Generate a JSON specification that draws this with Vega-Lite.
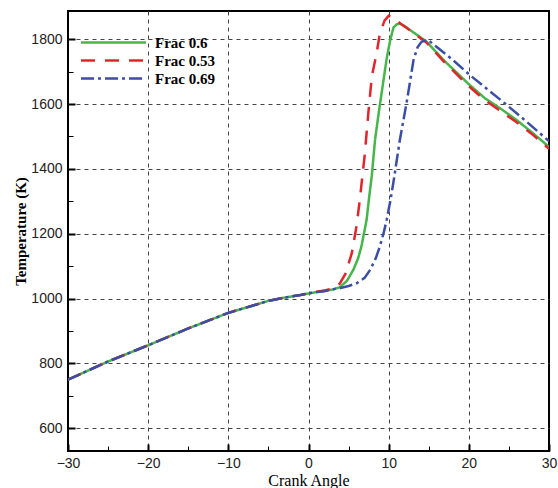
{
  "$schema": "https://vega.github.io/schema/vega-lite/v6.json",
  "width": 481,
  "height": 440,
  "autosize": "none",
  "padding": {"left": 68, "top": 11, "right": 9, "bottom": 37},
  "background": "white",
  "config": {
    "view": {"stroke": "black", "strokeWidth": 2},
    "axis": {"labelFont": "Liberation Sans", "labelFontSize": 14, "labelColor": "#222", "gridColor": "#444", "gridDash": [4, 4], "gridWidth": 1, "domain": false, "tickColor": "black", "titleColor": "black"}
  },
  "data": {"values": [
    {"s": "Frac 0.6", "x": -30, "t": 750}, {"s": "Frac 0.6", "x": -25, "t": 806}, {"s": "Frac 0.6", "x": -20, "t": 856}, {"s": "Frac 0.6", "x": -15, "t": 908}, {"s": "Frac 0.6", "x": -10, "t": 956}, {"s": "Frac 0.6", "x": -7, "t": 978}, {"s": "Frac 0.6", "x": -5, "t": 993}, {"s": "Frac 0.6", "x": -3, "t": 1003}, {"s": "Frac 0.6", "x": -1, "t": 1011}, {"s": "Frac 0.6", "x": 0, "t": 1016}, {"s": "Frac 0.6", "x": 1, "t": 1020}, {"s": "Frac 0.6", "x": 2, "t": 1024},
    {"s": "Frac 0.6", "x": 3, "t": 1028}, {"s": "Frac 0.6", "x": 3.9, "t": 1035}, {"s": "Frac 0.6", "x": 4.8, "t": 1055}, {"s": "Frac 0.6", "x": 5.6, "t": 1089}, {"s": "Frac 0.6", "x": 6.2, "t": 1125}, {"s": "Frac 0.6", "x": 6.6, "t": 1161}, {"s": "Frac 0.6", "x": 7.25, "t": 1243}, {"s": "Frac 0.6", "x": 7.6, "t": 1320}, {"s": "Frac 0.6", "x": 7.9, "t": 1380}, {"s": "Frac 0.6", "x": 8.3, "t": 1490}, {"s": "Frac 0.6", "x": 8.8, "t": 1580}, {"s": "Frac 0.6", "x": 9.3, "t": 1664}, {"s": "Frac 0.6", "x": 9.75, "t": 1740}, {"s": "Frac 0.6", "x": 10.2, "t": 1798}, {"s": "Frac 0.6", "x": 10.6, "t": 1836}, {"s": "Frac 0.6", "x": 11, "t": 1846}, {"s": "Frac 0.6", "x": 11.4, "t": 1848},
    {"s": "Frac 0.6", "x": 12, "t": 1840}, {"s": "Frac 0.6", "x": 14.7, "t": 1793}, {"s": "Frac 0.6", "x": 17, "t": 1732}, {"s": "Frac 0.6", "x": 20.1, "t": 1659}, {"s": "Frac 0.6", "x": 22, "t": 1618}, {"s": "Frac 0.6", "x": 23.9, "t": 1587}, {"s": "Frac 0.6", "x": 26, "t": 1550}, {"s": "Frac 0.6", "x": 28, "t": 1510}, {"s": "Frac 0.6", "x": 30, "t": 1468},
    {"s": "Frac 0.53", "x": -30, "t": 750}, {"s": "Frac 0.53", "x": -25, "t": 806}, {"s": "Frac 0.53", "x": -20, "t": 856}, {"s": "Frac 0.53", "x": -15, "t": 908}, {"s": "Frac 0.53", "x": -10, "t": 956}, {"s": "Frac 0.53", "x": -7, "t": 978}, {"s": "Frac 0.53", "x": -5, "t": 993}, {"s": "Frac 0.53", "x": -3, "t": 1003}, {"s": "Frac 0.53", "x": -1, "t": 1011}, {"s": "Frac 0.53", "x": 0, "t": 1016}, {"s": "Frac 0.53", "x": 1, "t": 1021}, {"s": "Frac 0.53", "x": 2, "t": 1025},
    {"s": "Frac 0.53", "x": 3, "t": 1031}, {"s": "Frac 0.53", "x": 3.9, "t": 1046}, {"s": "Frac 0.53", "x": 4.6, "t": 1076}, {"s": "Frac 0.53", "x": 5.4, "t": 1140}, {"s": "Frac 0.53", "x": 6, "t": 1225}, {"s": "Frac 0.53", "x": 6.4, "t": 1305}, {"s": "Frac 0.53", "x": 7, "t": 1440}, {"s": "Frac 0.53", "x": 7.5, "t": 1582}, {"s": "Frac 0.53", "x": 7.9, "t": 1685}, {"s": "Frac 0.53", "x": 8.5, "t": 1757}, {"s": "Frac 0.53", "x": 8.9, "t": 1818}, {"s": "Frac 0.53", "x": 9.5, "t": 1858}, {"s": "Frac 0.53", "x": 10, "t": 1872}, {"s": "Frac 0.53", "x": 10.6, "t": 1866}, {"s": "Frac 0.53", "x": 11.5, "t": 1848},
    {"s": "Frac 0.53", "x": 12, "t": 1839}, {"s": "Frac 0.53", "x": 14.7, "t": 1790}, {"s": "Frac 0.53", "x": 17, "t": 1728}, {"s": "Frac 0.53", "x": 20, "t": 1655}, {"s": "Frac 0.53", "x": 22, "t": 1612}, {"s": "Frac 0.53", "x": 24, "t": 1578}, {"s": "Frac 0.53", "x": 26, "t": 1543}, {"s": "Frac 0.53", "x": 28, "t": 1505}, {"s": "Frac 0.53", "x": 30, "t": 1462},
    {"s": "Frac 0.69", "x": -30, "t": 750}, {"s": "Frac 0.69", "x": -25, "t": 806}, {"s": "Frac 0.69", "x": -20, "t": 856}, {"s": "Frac 0.69", "x": -15, "t": 908}, {"s": "Frac 0.69", "x": -10, "t": 956}, {"s": "Frac 0.69", "x": -7, "t": 978}, {"s": "Frac 0.69", "x": -5, "t": 993}, {"s": "Frac 0.69", "x": -3, "t": 1003}, {"s": "Frac 0.69", "x": -1, "t": 1011}, {"s": "Frac 0.69", "x": 0, "t": 1016}, {"s": "Frac 0.69", "x": 1, "t": 1020}, {"s": "Frac 0.69", "x": 2, "t": 1023},
    {"s": "Frac 0.69", "x": 2.7, "t": 1027}, {"s": "Frac 0.69", "x": 4, "t": 1033}, {"s": "Frac 0.69", "x": 5, "t": 1039}, {"s": "Frac 0.69", "x": 6, "t": 1047}, {"s": "Frac 0.69", "x": 7, "t": 1064}, {"s": "Frac 0.69", "x": 7.7, "t": 1089}, {"s": "Frac 0.69", "x": 8.4, "t": 1125}, {"s": "Frac 0.69", "x": 8.9, "t": 1161}, {"s": "Frac 0.69", "x": 9.4, "t": 1205}, {"s": "Frac 0.69", "x": 9.75, "t": 1243}, {"s": "Frac 0.69", "x": 10.2, "t": 1300}, {"s": "Frac 0.69", "x": 10.6, "t": 1360}, {"s": "Frac 0.69", "x": 11.4, "t": 1490}, {"s": "Frac 0.69", "x": 12.3, "t": 1613}, {"s": "Frac 0.69", "x": 13.1, "t": 1736}, {"s": "Frac 0.69", "x": 13.6, "t": 1775}, {"s": "Frac 0.69", "x": 14.1, "t": 1792}, {"s": "Frac 0.69", "x": 14.9, "t": 1798},
    {"s": "Frac 0.69", "x": 16, "t": 1776}, {"s": "Frac 0.69", "x": 18, "t": 1736}, {"s": "Frac 0.69", "x": 20.1, "t": 1690}, {"s": "Frac 0.69", "x": 22, "t": 1652}, {"s": "Frac 0.69", "x": 24.7, "t": 1598}, {"s": "Frac 0.69", "x": 27, "t": 1550}, {"s": "Frac 0.69", "x": 29.7, "t": 1492}, {"s": "Frac 0.69", "x": 30, "t": 1486}
  ]},
  "mark": {"type": "line", "strokeWidth": 2.5, "clip": true},
  "encoding": {
    "x": {"field": "x", "type": "quantitative", "scale": {"domain": [-30, 30], "nice": false, "zero": false},
      "axis": {"values": [-30, -25, -20, -15, -10, -5, 0, 5, 10, 15, 20, 25, 30], "labelExpr": "datum.value % 10 == 0 ? datum.label : ''",
        "gridOpacity": {"condition": {"test": "datum.value % 10 != 0 || datum.value == -30 || datum.value == 30", "value": 0}, "value": 1},
        "tickSize": {"condition": {"test": "datum.value % 10 != 0", "value": -5}, "value": -7},
        "tickWidth": {"condition": {"test": "datum.value % 10 != 0", "value": 1}, "value": 2},
        "labelPadding": 12, "labelFlush": false,
        "title": "Crank Angle", "titleFont": "Liberation Serif", "titleFontSize": 16, "titleFontWeight": "normal", "titlePadding": 2}},
    "y": {"field": "t", "type": "quantitative", "scale": {"domain": [530, 1887], "nice": false, "zero": false},
      "axis": {"values": [600, 700, 800, 900, 1000, 1100, 1200, 1300, 1400, 1500, 1600, 1700, 1800], "labelExpr": "datum.value % 200 == 0 ? datum.label : ''",
        "format": "d",
        "gridOpacity": {"condition": {"test": "datum.value % 200 != 0", "value": 0}, "value": 1},
        "tickSize": {"condition": {"test": "datum.value % 200 != 0", "value": -5}, "value": -7},
        "tickWidth": {"condition": {"test": "datum.value % 200 != 0", "value": 1}, "value": 2},
        "labelPadding": 13,
        "title": "Temperature (K)", "titleFont": "Liberation Serif", "titleFontSize": 15, "titleFontWeight": "bold", "titlePadding": 2}},
    "color": {"field": "s", "type": "nominal", "scale": {"domain": ["Frac 0.6", "Frac 0.53", "Frac 0.69"], "range": ["#45b649", "#e3242b", "#3b4ea6"]},
      "legend": {"orient": "none", "legendX": 36, "legendY": 22, "title": null, "symbolType": "M-4,0H4", "symbolSize": 264, "symbolStrokeWidth": 2.5, "labelFont": "Liberation Serif", "labelFontSize": 15, "labelFontWeight": "bold", "labelColor": "black", "labelOffset": 32, "rowPadding": 0}},
    "strokeDash": {"field": "s", "type": "nominal", "scale": {"domain": ["Frac 0.6", "Frac 0.53", "Frac 0.69"], "range": [[1, 0], [14, 10], [13, 4, 3, 4]]}},
    "order": {"field": "x", "type": "quantitative"}
  }
}
